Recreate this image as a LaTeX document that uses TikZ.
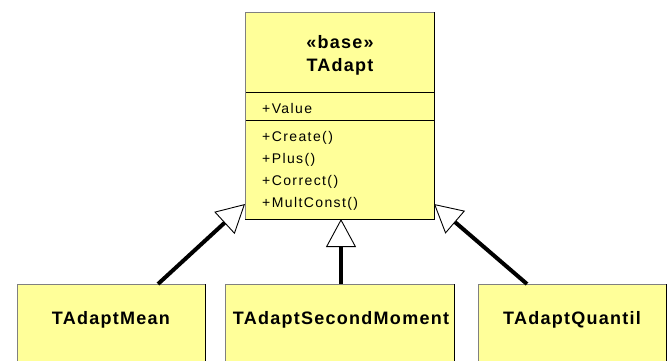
\documentclass[tikz,border=0pt]{standalone}
\usepackage{fontspec}
\usetikzlibrary{arrows.meta,calc}
\newfontfamily\umlfont[LetterSpace=7]{Liberation Sans}
\newfontfamily\memberfont[LetterSpace=10]{Liberation Sans}
\definecolor{clsfill}{RGB}{255,255,153}
\definecolor{edgegray}{RGB}{128,128,128}
\tikzset{
  cls/.style={fill=clsfill, draw=none, inner sep=0pt, outer sep=0pt, anchor=north west},
  clsname/.style={font=\umlfont\bfseries\fontsize{18}{20}\selectfont, inner sep=0pt, anchor=base},
  member/.style={font=\memberfont\fontsize{14}{16}\selectfont, inner sep=0pt, anchor=base west},
  inherit/.style={line width=4pt, -{Triangle[length=28pt, width=30pt, fill=white, line width=0.9pt]}},
}
\begin{document}
\begin{tikzpicture}[x=1pt, y=-1pt]
\useasboundingbox (0,0) rectangle (671,360);
\clip (0,0) rectangle (671,360);
\fill[white] (0,0) rectangle (671,360);

% base class with its three compartments
\node[cls, minimum width=189pt, minimum height=207pt] (base) at (245,12) {};
\draw[line width=0.8pt] (base.west |- 0,92) -- (base.east |- 0,92);
\draw[line width=0.8pt] (base.west |- 0,120) -- (base.east |- 0,120);
\node[clsname] (stereo) at (340,48) {«base»};
\node[clsname] (bname) at (340,71) {TAdapt};
\node[member] (mval) at (262,113) {+Value};
\node[member] (mcreate) at (262,141) {+Create()};
\node[member] (mplus) at (262,163) {+Plus()};
\node[member] (mcorr) at (262,185) {+Correct()};
\node[member] (mmult) at (262,207) {+MultConst()};

% derived classes
\node[cls, minimum width=188pt, minimum height=110pt] (mean) at (17,284) {};
\node[cls, minimum width=229pt, minimum height=110pt] (tsm) at (225,284) {};
\node[cls, minimum width=188pt, minimum height=110pt] (quant) at (478,284) {};
\node[clsname] (meanname) at ([yshift=-40pt]mean.north) {TAdaptMean};
\node[clsname] (tsmname) at ([xshift=1.5pt, yshift=-40pt]tsm.north) {TAdaptSecondMoment};
\node[clsname] (quantname) at ([yshift=-40pt]quant.north) {TAdaptQuantil};

% shaded borders: grey top/left, black bottom/right
\foreach \n in {base,mean,tsm,quant}{
  \draw[edgegray, line width=1pt] (\n.south west) -- (\n.north west) -- (\n.north east);
  \draw[black, line width=1pt] (\n.north east) -- (\n.south east) -- (\n.south west);
}

% generalisation arrows
\draw[inherit] ([xshift=141pt]mean.north west) -- ([yshift=15pt]base.south west);
\draw[inherit] ([xshift=1.5pt]tsm.north) -- ([xshift=1.5pt]tsm.north |- base.south);
\draw[inherit] ([xshift=49pt]quant.north west) -- ([yshift=15pt]base.south east);
\end{tikzpicture}
\end{document}
